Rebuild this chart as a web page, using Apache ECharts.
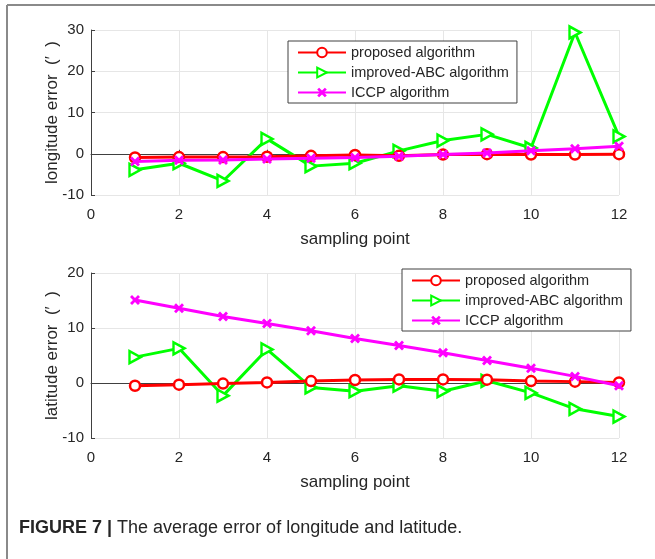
<!DOCTYPE html>
<html>
<head>
<meta charset="utf-8">
<script src="https://cdn.jsdelivr.net/npm/echarts@6/dist/echarts.min.js"></script>
<style>
  html, body { margin: 0; padding: 0; background: #fff; }
  #chart { width: 655px; height: 559px; }
</style>
</head>
<body>
<div id="chart"></div>
<script>
// sampling points 1..12
const samplePoints = [1, 2, 3, 4, 5, 6, 7, 8, 9, 10, 11, 12];
const seriesNames = ['proposed algorithm', 'improved-ABC algorithm', 'ICCP algorithm'];

// longitude error (top panel)
const lonProposed = [-0.9, -0.8, -0.8, -0.7, -0.5, -0.3, -0.5, -0.2, -0.1, -0.2, -0.2, -0.1];
const lonImprovedABC = [-3.9, -2.3, -6.6, 3.6, -3.0, -2.3, 0.7, 3.2, 4.7, 1.4, 29.4, 4.2];
const lonICCP = [-1.9, -1.6, -1.5, -1.3, -1.1, -0.9, -0.6, -0.2, 0.2, 0.7, 1.2, 1.8];

// latitude error (bottom panel)
const latProposed = [-0.5, -0.3, -0.1, 0.1, 0.35, 0.55, 0.65, 0.65, 0.6, 0.35, 0.25, 0.1];
const latImprovedABC = [4.7, 6.3, -2.3, 6.1, -0.8, -1.5, -0.5, -1.5, 0.4, -1.8, -4.7, -6.1];
const latICCP = [15.1, 13.6, 12.1, 10.8, 9.5, 8.1, 6.8, 5.5, 4.1, 2.7, 1.2, -0.5];

const FONT = '"Liberation Sans", Arial, "DejaVu Sans", sans-serif';
const RED = '#ff0000', GREEN = '#00ff00', MAGENTA = '#ff00ff';
const triRight = 'path://M0,0L10,5L0,10Z';
const xMark = 'path://M0,2L2,0L5,3L8,0L10,2L7,5L10,8L8,10L5,7L2,10L0,8L3,5Z';

function pairs(ys) {
  return samplePoints.map((x, i) => [x, ys[i]]);
}

function makeSeries(idx, ys) {
  return [
    {
      name: seriesNames[0], type: 'line', xAxisIndex: idx, yAxisIndex: idx,
      data: pairs(ys[0]), symbol: 'circle', symbolSize: 10,
      lineStyle: { color: RED, width: 3 },
      itemStyle: { color: '#fff', borderColor: RED, borderWidth: 2.5 },
      z: 4
    },
    {
      name: seriesNames[1], type: 'line', xAxisIndex: idx, yAxisIndex: idx,
      data: pairs(ys[1]), symbol: triRight, symbolSize: [11, 12],
      lineStyle: { color: GREEN, width: 3 },
      itemStyle: { color: '#fff', borderColor: GREEN, borderWidth: 2.5 },
      z: 3
    },
    {
      name: seriesNames[2], type: 'line', xAxisIndex: idx, yAxisIndex: idx,
      data: pairs(ys[2]), symbol: xMark, symbolSize: 10,
      lineStyle: { color: MAGENTA, width: 3 },
      itemStyle: { color: MAGENTA, borderWidth: 0 },
      z: 5
    }
  ];
}

function xAxisCfg(idx) {
  return {
    type: 'value', gridIndex: idx, min: 0, max: 12, interval: 2,
    name: 'sampling point', nameLocation: 'middle', nameGap: 36,
    nameTextStyle: { fontFamily: FONT, fontSize: 17, color: '#262626' },
    axisLine: { lineStyle: { color: '#404040', width: 1 } },
    axisTick: { inside: true, length: 4, lineStyle: { color: '#404040' } },
    axisLabel: { margin: 12, fontFamily: FONT, fontSize: 15, color: '#262626' },
    splitLine: { show: true, lineStyle: { color: '#e6e6e6', width: 1 } }
  };
}

function yAxisCfg(idx, name, min, max) {
  return {
    type: 'value', gridIndex: idx, min: min, max: max, interval: 10,
    name: name, nameLocation: 'middle', nameGap: 30,
    nameMoveOverlap: false,
    nameTextStyle: { fontFamily: FONT, fontSize: 17, color: '#262626' },
    axisLine: { show: true, lineStyle: { color: '#404040', width: 1 } },
    axisTick: { show: true, inside: true, length: 4, lineStyle: { color: '#404040' } },
    axisLabel: { margin: 7, fontFamily: FONT, fontSize: 15, color: '#262626' },
    splitLine: { show: true, lineStyle: { color: '#e6e6e6', width: 1 } }
  };
}

function legendCfg(left, top) {
  return {
    data: seriesNames, orient: 'vertical', left: left, top: top,
    itemWidth: 48, itemHeight: 12, itemGap: 5,
    padding: [4, 8, 3, 9],
    borderColor: '#404040', borderWidth: 1, backgroundColor: '#fff',
    textStyle: { fontFamily: FONT, fontSize: 14.5, color: '#262626' },
    selectedMode: false
  };
}

const chart = echarts.init(document.getElementById('chart'));
chart.setOption({
  animation: false,
  backgroundColor: '#fff',
  grid: [
    { left: 91, right: 36, top: 30, height: 165 },
    { left: 91, right: 36, top: 273, height: 165 }
  ],
  xAxis: [xAxisCfg(0), xAxisCfg(1)],
  yAxis: [
    yAxisCfg(0, 'longitude error  (′  )', -10, 30),
    yAxisCfg(1, 'latitude error  (′  )', -10, 20)
  ],
  legend: [legendCfg(288, 41), legendCfg(402, 269)],
  series: makeSeries(0, [lonProposed, lonImprovedABC, lonICCP])
    .concat(makeSeries(1, [latProposed, latImprovedABC, latICCP])),
  graphic: [
    { type: 'line', shape: { x1: 7, y1: 5, x2: 655, y2: 5 }, style: { stroke: '#8a8a8a', lineWidth: 2 } },
    { type: 'line', shape: { x1: 7, y1: 5, x2: 7, y2: 559 }, style: { stroke: '#8a8a8a', lineWidth: 2 } },
    {
      type: 'text', left: 19, top: 519,
      style: {
        text: '{b|FIGURE 7 |} The average error of longitude and latitude.',
        fontFamily: FONT, fontSize: 18, fill: '#262626',
        rich: { b: { fontFamily: FONT, fontSize: 18, fontWeight: 'bold', fill: '#262626' } }
      }
    }
  ]
});
</script>
</body>
</html>
